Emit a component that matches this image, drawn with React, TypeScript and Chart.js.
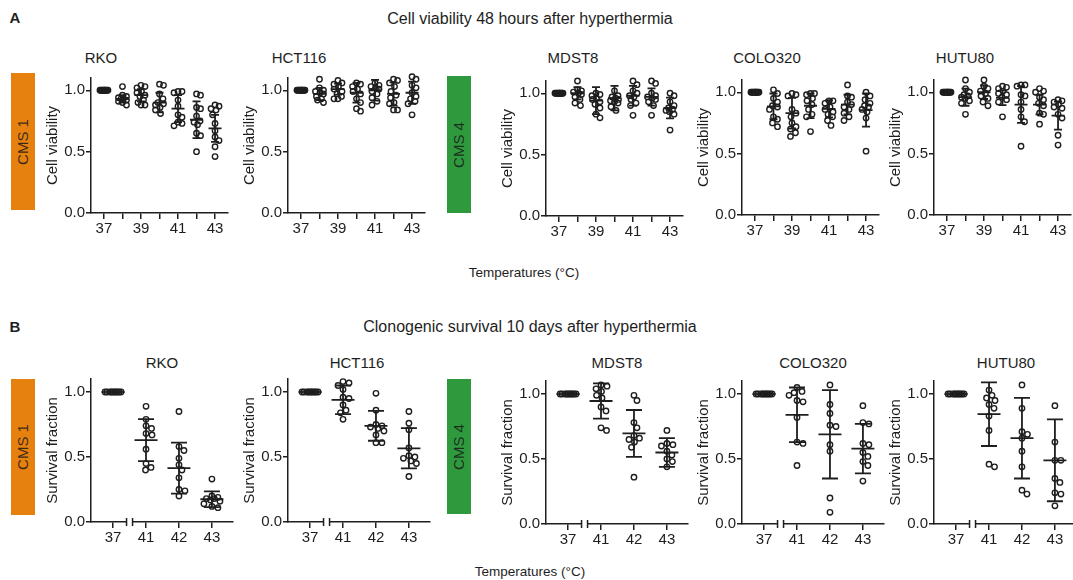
import React, { useEffect, useRef } from 'react';
import { Chart, registerables } from 'chart.js';

Chart.register(...registerables);

// ---------------- DATA ----------------
const topTemps = [37, 38, 39, 40, 41, 42, 43];
const topTickLabels = ['37', '', '39', '', '41', '', '43'];
const bottomTemps = ['37', '41', '42', '43'];
const yTicks = [0, 0.5, 1.0];
const baseline = [1, 1, 1, 1, 1, 1, 1, 1, 1, 1];

// A: Cell viability 48 h after hyperthermia
const rkoViability = [
  baseline,
  [1.03, 0.96, 0.95, 0.94, 0.93, 0.93, 0.92, 0.91, 0.90, 0.88],
  [1.04, 1.03, 1.02, 0.99, 0.98, 0.96, 0.95, 0.92, 0.90, 0.88, 0.88],
  [1.05, 1.04, 0.97, 0.93, 0.90, 0.89, 0.88, 0.86, 0.84, 0.81],
  [0.99, 0.99, 0.98, 0.92, 0.87, 0.80, 0.78, 0.74, 0.73, 0.71],
  [0.97, 0.96, 0.86, 0.85, 0.79, 0.75, 0.74, 0.72, 0.65, 0.63, 0.50],
  [0.88, 0.87, 0.85, 0.84, 0.80, 0.73, 0.67, 0.62, 0.59, 0.54, 0.46],
];
const rkoViabilityMean = [1, 0.93, 0.96, 0.9, 0.85, 0.76, 0.69];
const rkoViabilitySd = [0, 0.03, 0.05, 0.08, 0.11, 0.15, 0.11];

const hct116Viability = [
  baseline,
  [1.09, 1.02, 1.0, 0.99, 0.98, 0.97, 0.95, 0.93, 0.92, 0.90],
  [1.08, 1.06, 1.05, 1.03, 1.01, 0.99, 0.97, 0.95, 0.93, 0.93],
  [1.06, 1.05, 1.03, 1.01, 0.99, 0.97, 0.93, 0.90, 0.85, 0.83],
  [1.06, 1.04, 1.03, 1.02, 1.01, 0.99, 0.97, 0.94, 0.91, 0.88],
  [1.09, 1.08, 1.06, 1.03, 0.99, 0.96, 0.94, 0.90, 0.89, 0.84, 0.84],
  [1.11, 1.09, 1.04, 1.02, 0.98, 0.95, 0.93, 0.91, 0.89, 0.80],
];
const hct116ViabilityMean = [1, 0.97, 1.01, 0.98, 1.0, 0.97, 0.98];
const hct116ViabilitySd = [0, 0.05, 0.045, 0.08, 0.085, 0.095, 0.09];

const mdst8Viability = [
  baseline,
  [1.10, 1.03, 1.02, 1.01, 1.0, 0.99, 0.97, 0.95, 0.92, 0.90],
  [1.0, 0.99, 0.98, 0.96, 0.95, 0.93, 0.91, 0.88, 0.83, 0.80],
  [1.02, 0.98, 0.97, 0.96, 0.95, 0.94, 0.93, 0.92, 0.89, 0.86],
  [1.10, 1.07, 1.02, 1.0, 0.98, 0.97, 0.95, 0.92, 0.90, 0.82],
  [1.10, 1.08, 1.0, 0.98, 0.97, 0.96, 0.95, 0.93, 0.90, 0.82],
  [1.0, 0.98, 0.93, 0.90, 0.88, 0.87, 0.86, 0.85, 0.83, 0.70],
];
const mdst8ViabilityMean = [1, 1.0, 0.94, 0.96, 0.98, 0.97, 0.88];
const mdst8ViabilitySd = [0, 0.05, 0.11, 0.1, 0.08, 0.07, 0.085];

const colo320Viability = [
  baseline,
  [1.02, 0.99, 0.95, 0.92, 0.89, 0.88, 0.86, 0.80, 0.78, 0.75, 0.72],
  [0.99, 0.98, 0.97, 0.86, 0.83, 0.80, 0.75, 0.72, 0.70, 0.67, 0.64],
  [0.99, 0.99, 0.98, 0.95, 0.93, 0.90, 0.86, 0.82, 0.80, 0.68],
  [0.93, 0.93, 0.91, 0.88, 0.86, 0.84, 0.82, 0.80, 0.77, 0.73],
  [1.06, 0.97, 0.96, 0.92, 0.90, 0.88, 0.86, 0.83, 0.80, 0.77],
  [1.0, 0.97, 0.94, 0.91, 0.89, 0.88, 0.86, 0.84, 0.79, 0.52],
];
const colo320ViabilityMean = [1, 0.885, 0.83, 0.89, 0.865, 0.9, 0.855];
const colo320ViabilitySd = [0, 0.105, 0.125, 0.1, 0.07, 0.08, 0.135];

const hutu80Viability = [
  baseline,
  [1.10, 1.03, 1.0, 0.98, 0.97, 0.96, 0.95, 0.93, 0.91, 0.82],
  [1.10, 1.05, 1.03, 1.01, 0.99, 0.97, 0.95, 0.92, 0.89],
  [1.05, 1.04, 1.03, 1.01, 0.99, 0.98, 0.96, 0.94, 0.92, 0.80],
  [1.06, 1.06, 1.05, 0.98, 0.97, 0.92, 0.86, 0.80, 0.76, 0.56],
  [1.03, 1.01, 1.0, 0.96, 0.94, 0.91, 0.89, 0.83, 0.82, 0.74],
  [0.94, 0.93, 0.92, 0.90, 0.88, 0.87, 0.82, 0.79, 0.65, 0.57],
];
const hutu80ViabilityMean = [1, 0.96, 1.0, 0.955, 0.9, 0.9, 0.81];
const hutu80ViabilitySd = [0, 0.07, 0.055, 0.06, 0.15, 0.08, 0.115];

// B: Clonogenic survival 10 days after hyperthermia
const rkoSurvival = [
  baseline,
  [0.89, 0.79, 0.74, 0.72, 0.68, 0.67, 0.56, 0.45, 0.42, 0.40],
  [0.85, 0.58, 0.55, 0.49, 0.44, 0.40, 0.34, 0.25, 0.24, 0.20],
  [0.33, 0.20, 0.19, 0.18, 0.18, 0.17, 0.16, 0.14, 0.12, 0.11],
];
const rkoSurvivalMean = [1, 0.63, 0.415, 0.175];
const rkoSurvivalSd = [0, 0.162, 0.196, 0.06];

const hct116Survival = [
  baseline,
  [1.08, 1.07, 1.05, 1.02, 0.96, 0.95, 0.90, 0.86, 0.84, 0.79],
  [0.99, 0.86, 0.75, 0.74, 0.73, 0.72, 0.70, 0.67, 0.61, 0.61],
  [0.85, 0.76, 0.71, 0.57, 0.51, 0.50, 0.49, 0.47, 0.45, 0.35],
];
const hct116SurvivalMean = [1, 0.94, 0.74, 0.567];
const hct116SurvivalSd = [0, 0.11, 0.115, 0.155];

const mdst8Survival = [
  baseline,
  [1.07, 1.06, 1.04, 1.02, 0.99, 0.97, 0.90, 0.87, 0.74, 0.72],
  [0.99, 0.95, 0.78, 0.74, 0.68, 0.66, 0.65, 0.63, 0.59, 0.36],
  [0.72, 0.62, 0.61, 0.60, 0.56, 0.53, 0.50, 0.48, 0.44],
];
const mdst8SurvivalMean = [1, 0.946, 0.697, 0.55];
const mdst8SurvivalSd = [0, 0.135, 0.18, 0.11];

const colo320Survival = [
  baseline,
  [1.05, 1.02, 1.01, 0.99, 0.95, 0.94, 0.82, 0.63, 0.62, 0.45],
  [1.07, 0.92, 0.85, 0.76, 0.75, 0.61, 0.56, 0.20, 0.09],
  [0.91, 0.78, 0.77, 0.62, 0.61, 0.55, 0.52, 0.48, 0.45, 0.33],
];
const colo320SurvivalMean = [1, 0.84, 0.69, 0.58];
const colo320SurvivalSd = [0, 0.21, 0.34, 0.19];

const hutu80Survival = [
  baseline,
  [1.03, 0.99, 0.97, 0.95, 0.92, 0.89, 0.83, 0.72, 0.46, 0.44],
  [1.07, 0.89, 0.71, 0.69, 0.66, 0.56, 0.44, 0.26, 0.23],
  [0.91, 0.63, 0.49, 0.49, 0.35, 0.32, 0.24, 0.23, 0.14],
];
const hutu80SurvivalMean = [1, 0.845, 0.66, 0.49];
const hutu80SurvivalSd = [0, 0.245, 0.31, 0.315];

// ---------------- PANELS ----------------
const viabilityPanels = [
  { name: 'RKO', values: rkoViability, mean: rkoViabilityMean, sd: rkoViabilitySd },
  { name: 'HCT116', values: hct116Viability, mean: hct116ViabilityMean, sd: hct116ViabilitySd },
  { name: 'MDST8', values: mdst8Viability, mean: mdst8ViabilityMean, sd: mdst8ViabilitySd },
  { name: 'COLO320', values: colo320Viability, mean: colo320ViabilityMean, sd: colo320ViabilitySd },
  { name: 'HUTU80', values: hutu80Viability, mean: hutu80ViabilityMean, sd: hutu80ViabilitySd },
];
const survivalPanels = [
  { name: 'RKO', values: rkoSurvival, mean: rkoSurvivalMean, sd: rkoSurvivalSd },
  { name: 'HCT116', values: hct116Survival, mean: hct116SurvivalMean, sd: hct116SurvivalSd },
  { name: 'MDST8', values: mdst8Survival, mean: mdst8SurvivalMean, sd: mdst8SurvivalSd },
  { name: 'COLO320', values: colo320Survival, mean: colo320SurvivalMean, sd: colo320SurvivalSd },
  { name: 'HUTU80', values: hutu80Survival, mean: hutu80SurvivalMean, sd: hutu80SurvivalSd },
];

// ---------------- LAYOUT / STYLE ----------------
const FONT = '"Liberation Sans", Arial, Helvetica, sans-serif';
const INK = '#1e1e1e';
const ORANGE = '#E6800F';
const GREEN = '#2E9A3D';
const Y_AXIS_W = 52;
const X_AXIS_H = 30;
const PAD_TOP = 12;
const PAD_RIGHT = 6;
const TICK_FONT = 15;
const LABEL_FONT = 15;

const topLayout = [
  { axisX: 91, y0: 213, titleX: 101 },
  { axisX: 288, y0: 213, titleX: 299 },
  { axisX: 546, y0: 216, titleX: 573 },
  { axisX: 742, y0: 215, titleX: 767 },
  { axisX: 934, y0: 215, titleX: 965 },
];
const bottomLayout = [
  { axisX: 91, y0: 522, titleX: 162 },
  { axisX: 288, y0: 522, titleX: 357 },
  { axisX: 546, y0: 524, titleX: 617 },
  { axisX: 742, y0: 524, titleX: 813 },
  { axisX: 934, y0: 524, titleX: 1006 },
];

const GEOM = {
  top: { plotW: 137, plotH: 135, xMin: 36.3, xMax: 43.7, maxHalf: 4, meanHalf: 6.5, capHalf: 4, yTitle: 'Cell viability' },
  bottom: { plotW: 142, plotH: 143, xMin: -0.67, xMax: 3.64, maxHalf: 8, meanHalf: 11.5, capHalf: 8, yTitle: 'Survival fraction' },
};

// Prism-like scatter spreading: offset points horizontally so circles do not overlap,
// within the column width.
function arrangePoints(chart: any, groups: number[][], cats: number[], maxHalf: number, diameter: number) {
  const xs = chart.scales.x;
  const ys = chart.scales.y;
  const unitPx = xs.getPixelForValue(1) - xs.getPixelForValue(0);
  const candidates: number[] = [0];
  for (let o = 0.5; o <= maxHalf + 1e-9; o += 0.5) candidates.push(o, -o);
  const out: { x: number; y: number }[] = [];
  groups.forEach((vals, gi) => {
    const sorted = vals.map((v) => ({ v, py: ys.getPixelForValue(v) })).sort((a, b) => a.py - b.py);
    const placed: { off: number; py: number }[] = [];
    sorted.forEach((p) => {
      let best = 0;
      let bestScore = -1;
      for (const off of candidates) {
        let minD = Infinity;
        for (const q of placed) {
          const d = Math.hypot(off - q.off, p.py - q.py);
          if (d < minD) minD = d;
        }
        if (minD >= diameter) { best = off; break; }
        if (minD > bestScore + 1e-9) { bestScore = minD; best = off; }
      }
      placed.push({ off: best, py: p.py });
      out.push({ x: cats[gi] + best / unitPx, y: p.v });
    });
  });
  return out;
}

type PanelProps = {
  row: 'top' | 'bottom';
  values: number[][];
  mean: number[];
  sd: number[];
  axisX: number;
  y0: number;
};

function Panel({ row, values, mean, sd, axisX, y0 }: PanelProps) {
  const ref = useRef<HTMLCanvasElement>(null);
  const g = GEOM[row];
  const left = axisX - Y_AXIS_W;
  const top = y0 - g.plotH - PAD_TOP;
  const width = Y_AXIS_W + g.plotW + PAD_RIGHT;
  const height = PAD_TOP + g.plotH + X_AXIS_H;

  useEffect(() => {
    if (!ref.current) return;
    const isTop = row === 'top';
    const cats = isTop ? topTemps.slice() : bottomTemps.map((_, i) => i);
    const labels = isTop ? topTickLabels : bottomTemps;
    const tickFont = { family: FONT, size: TICK_FONT };
    const titleFont = { family: FONT, size: LABEL_FONT };

    const errorBars = {
      id: 'errorBars',
      afterDatasetsDraw(chart: any) {
        const { ctx } = chart;
        const xs = chart.scales.x;
        const ys = chart.scales.y;
        ctx.save();
        ctx.strokeStyle = INK;
        ctx.lineWidth = 1.8;
        cats.forEach((c, i) => {
          const x = xs.getPixelForValue(c);
          const ym = ys.getPixelForValue(mean[i]);
          const yt = ys.getPixelForValue(mean[i] + sd[i]);
          const yb = ys.getPixelForValue(mean[i] - sd[i]);
          ctx.beginPath();
          ctx.moveTo(x - g.meanHalf, ym);
          ctx.lineTo(x + g.meanHalf, ym);
          if (sd[i] > 0) {
            ctx.moveTo(x, yt);
            ctx.lineTo(x, yb);
            ctx.moveTo(x - g.capHalf, yt);
            ctx.lineTo(x + g.capHalf, yt);
            ctx.moveTo(x - g.capHalf, yb);
            ctx.lineTo(x + g.capHalf, yb);
          }
          ctx.stroke();
        });
        ctx.restore();
      },
    };

    const axisBreak = {
      id: 'axisBreak',
      afterDraw(chart: any) {
        if (isTop) return;
        const { ctx } = chart;
        const xs = chart.scales.x;
        const y = chart.chartArea.bottom;
        const xb = (xs.getPixelForValue(cats[0]) + xs.getPixelForValue(cats[1])) / 2;
        ctx.save();
        ctx.clearRect(xb - 3, y - 2, 6, 4);
        ctx.strokeStyle = INK;
        ctx.lineWidth = 1.5;
        ctx.beginPath();
        ctx.moveTo(xb - 3, y - 4);
        ctx.lineTo(xb - 3, y + 4);
        ctx.moveTo(xb + 3, y - 4);
        ctx.lineTo(xb + 3, y + 4);
        ctx.stroke();
        ctx.restore();
      },
    };

    const chart = new Chart(ref.current, {
      type: 'scatter',
      data: {
        datasets: [
          {
            data: values.flatMap((grp, i) => grp.map((v) => ({ x: cats[i], y: v }))),
            pointRadius: 2.7,
            pointBorderWidth: 1.4,
            pointBorderColor: INK,
            pointBackgroundColor: 'rgba(0,0,0,0)',
            pointStyle: 'circle',
            showLine: false,
            clip: false as any,
          },
        ],
      },
      options: {
        animation: false,
        responsive: false,
        maintainAspectRatio: false,
        devicePixelRatio: 1,
        events: [],
        layout: { padding: { top: PAD_TOP, right: PAD_RIGHT, left: 0, bottom: 0 } },
        plugins: { legend: { display: false }, tooltip: { enabled: false }, title: { display: false } },
        scales: {
          x: {
            type: 'linear',
            min: g.xMin,
            max: g.xMax,
            afterBuildTicks: (s: any) => {
              s.ticks = cats.map((v) => ({ value: v }));
            },
            afterFit: (s: any) => {
              s.height = X_AXIS_H;
              s.paddingLeft = 0;
              s.paddingRight = 0;
            },
            ticks: {
              autoSkip: false,
              maxRotation: 0,
              minRotation: 0,
              padding: 1,
              color: INK,
              font: tickFont,
              callback: (_v: any, i: number) => labels[i],
            },
            grid: { drawOnChartArea: false, drawTicks: true, tickLength: 6, color: INK, lineWidth: 1.5 },
            border: { display: true, color: INK, width: 1.5 },
          },
          y: {
            type: 'linear',
            min: 0,
            max: 1.1,
            afterBuildTicks: (s: any) => {
              s.ticks = yTicks.map((v) => ({ value: v }));
            },
            afterFit: (s: any) => {
              s.width = Y_AXIS_W;
              s.paddingTop = 0;
              s.paddingBottom = 0;
            },
            ticks: {
              padding: 1,
              color: INK,
              font: tickFont,
              callback: (v: any) => Number(v).toFixed(1),
            },
            grid: { drawOnChartArea: false, drawTicks: true, tickLength: 5, color: INK, lineWidth: 1.5 },
            border: { display: true, color: INK, width: 1.5 },
            title: {
              display: true,
              text: g.yTitle,
              color: INK,
              font: titleFont,
              padding: { top: 5, bottom: 0 },
            },
          },
        },
      } as any,
      plugins: [errorBars, axisBreak],
    });

    chart.data.datasets[0].data = arrangePoints(chart, values, cats, g.maxHalf, 6) as any;
    chart.update('none');

    return () => chart.destroy();
  }, []);

  return (
    <canvas
      ref={ref}
      width={width}
      height={height}
      style={{ position: 'absolute', left, top, width, height }}
    />
  );
}

function Text({ x, y, children, bold, size = LABEL_FONT }: { x: number; y: number; children: React.ReactNode; bold?: boolean; size?: number }) {
  return (
    <div
      style={{
        position: 'absolute',
        left: x,
        top: y,
        transform: 'translate(-50%, -50%)',
        fontFamily: FONT,
        fontSize: size,
        lineHeight: '18px',
        color: INK,
        whiteSpace: 'nowrap',
        fontWeight: bold ? 700 : 400,
      }}
    >
      {children}
    </div>
  );
}

function CmsBox({ x, y, w, h, color, label }: { x: number; y: number; w: number; h: number; color: string; label: string }) {
  return (
    <div style={{ position: 'absolute', left: x, top: y, width: w, height: h, background: color }}>
      <div
        style={{
          position: 'absolute',
          left: '50%',
          top: '50%',
          transform: 'translate(-50%, -50%) rotate(-90deg)',
          fontFamily: FONT,
          fontSize: LABEL_FONT,
          lineHeight: '18px',
          color: 'rgba(25,25,25,0.85)',
          whiteSpace: 'nowrap',
        }}
      >
        {label}
      </div>
    </div>
  );
}

export default function App() {
  return (
    <div
      style={{
        position: 'absolute',
        left: 0,
        top: 0,
        width: 1073,
        height: 580,
        overflow: 'hidden',
        background: '#fff',
      }}
    >
      <Text x={15} y={18} bold>A</Text>
      <Text x={530} y={19} size={16}>Cell viability 48 hours after hyperthermia</Text>
      <Text x={15} y={327} bold>B</Text>
      <Text x={530} y={327} size={16}>Clonogenic survival 10 days after hyperthermia</Text>

      <CmsBox x={11} y={73} w={24} h={137} color={ORANGE} label="CMS 1" />
      <CmsBox x={447} y={76} w={24} h={137} color={GREEN} label="CMS 4" />
      <CmsBox x={11} y={379} w={24} h={136} color={ORANGE} label="CMS 1" />
      <CmsBox x={447} y={379} w={24} h={135} color={GREEN} label="CMS 4" />

      {viabilityPanels.map((p, i) => (
        <React.Fragment key={'t' + p.name}>
          <Text x={topLayout[i].titleX} y={58}>{p.name}</Text>
          <Panel row="top" values={p.values} mean={p.mean} sd={p.sd} axisX={topLayout[i].axisX} y0={topLayout[i].y0} />
        </React.Fragment>
      ))}
      {survivalPanels.map((p, i) => (
        <React.Fragment key={'b' + p.name}>
          <Text x={bottomLayout[i].titleX} y={363}>{p.name}</Text>
          <Panel row="bottom" values={p.values} mean={p.mean} sd={p.sd} axisX={bottomLayout[i].axisX} y0={bottomLayout[i].y0} />
        </React.Fragment>
      ))}

      <Text x={524} y={273} size={13.5}>Temperatures (°C)</Text>
      <Text x={530} y={572} size={13.5}>Temperatures (°C)</Text>
    </div>
  );
}
